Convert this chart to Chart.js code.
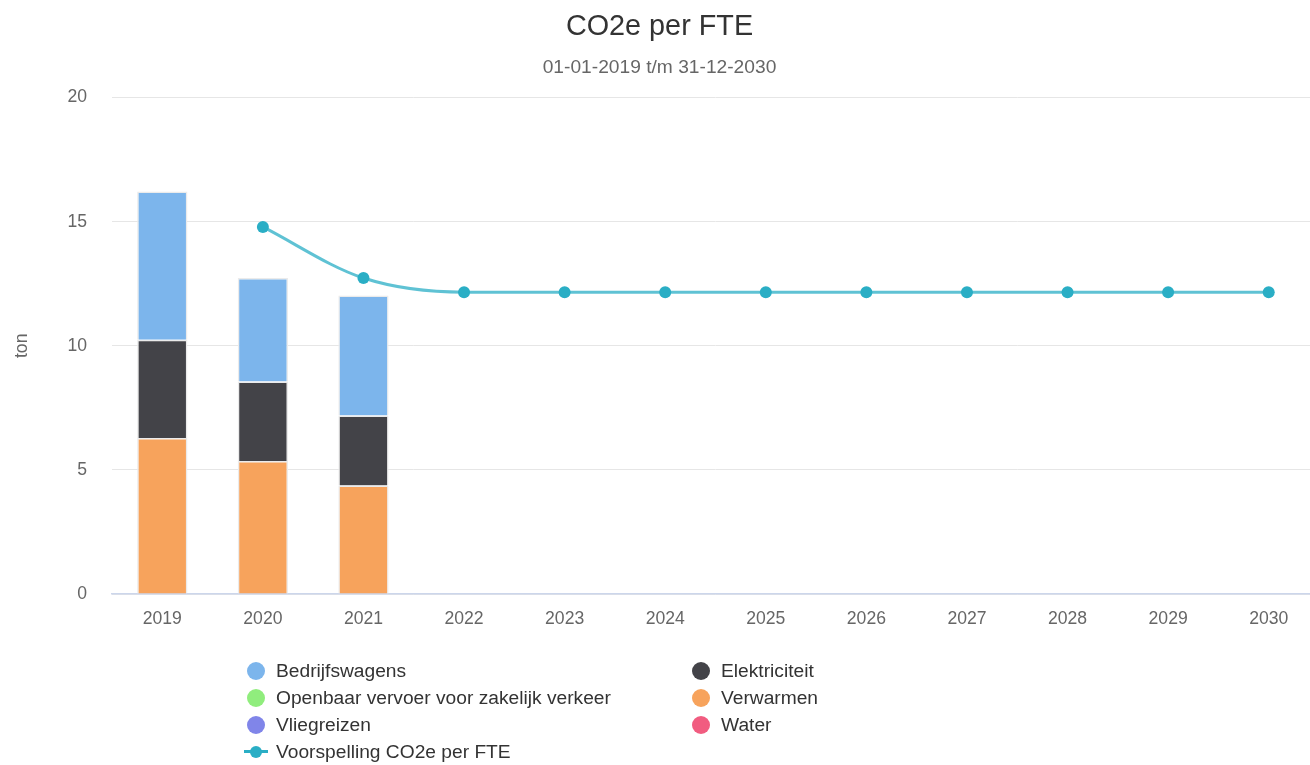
<!DOCTYPE html>
<html lang="nl">
<head>
<meta charset="utf-8">
<title>CO2e per FTE</title>
<script src="https://cdn.jsdelivr.net/npm/chart.js@4.4.1/dist/chart.umd.min.js"></script>
<style>
  html, body { margin: 0; padding: 0; background: #fff; overflow: hidden; }
  #wrap { position: relative; width: 1344px; height: 765px; }
  #legenda {
    position: absolute; left: 244px; top: 657px;
    display: grid; grid-template-columns: 445px 400px; grid-auto-rows: 27px;
    font-family: "Liberation Sans", Arial, sans-serif; font-size: 19.2px; color: #333;
  }
  .item { display: flex; align-items: center; white-space: nowrap; }
  .marker { width: 24px; height: 27px; position: relative; margin-right: 8px; flex: none; }
  .marker .bol { position: absolute; left: 3px; top: 4.5px; width: 18px; height: 18px; border-radius: 50%; }
  .marker .lijn { position: absolute; left: 0; top: 12px; width: 24px; height: 3px; }
  .marker .punt { position: absolute; left: 6px; top: 7.5px; width: 12px; height: 12px; border-radius: 50%; }
</style>
</head>
<body>
<div id="wrap">
  <canvas id="grafiek" width="1344" height="765"></canvas>
  <div id="legenda"></div>
</div>
<script>
// Data
const jaren = ["2019", "2020", "2021", "2022", "2023", "2024", "2025", "2026", "2027", "2028", "2029", "2030"];
const bedrijfswagens = [5.98, 4.17, 4.84];
const elektriciteit = [3.95, 3.2, 2.82];
const openbaarVervoer = [0, 0, 0];
const verwarmen = [6.29, 5.36, 4.37];
const vliegreizen = [0, 0, 0];
const water = [0, 0, 0];
const voorspelling = [null, 14.79, 12.73, 12.16, 12.16, 12.16, 12.16, 12.16, 12.16, 12.16, 12.16, 12.16];
const yTicks = [0, 5, 10, 15, 20];

const lettertype = "'Liberation Sans', Arial, sans-serif";
const lijnKleur = "#2aaec5";

// Volgorde in de legenda
const legendaVolgorde = ["Bedrijfswagens", "Elektriciteit", "Openbaar vervoer voor zakelijk verkeer", "Verwarmen", "Vliegreizen", "Water", "Voorspelling CO2e per FTE"];

function staaf(label, data, kleur) {
  return {
    type: "bar",
    label: label,
    data: data,
    backgroundColor: kleur,
    borderColor: "#ebebeb",
    borderWidth: 1.5,
    stack: "totaal",
    categoryPercentage: 1,
    barPercentage: 0.5,
    order: 2,
  };
}

const ctx = document.getElementById("grafiek").getContext("2d");
const grafiek = new Chart(ctx, {
  data: {
    labels: jaren,
    datasets: [
      {
        type: "line",
        label: "Voorspelling CO2e per FTE",
        data: voorspelling,
        borderColor: "rgba(42,174,197,0.75)",
        backgroundColor: lijnKleur,
        borderWidth: 3,
        pointRadius: 6,
        pointBackgroundColor: lijnKleur,
        pointBorderWidth: 0,
        cubicInterpolationMode: "monotone",
        order: 1,
      },
      // onderste stapel eerst
      staaf("Verwarmen", verwarmen, "#f7a35c"),
      staaf("Elektriciteit", elektriciteit, "#434348"),
      staaf("Bedrijfswagens", bedrijfswagens, "#7cb5ec"),
      staaf("Openbaar vervoer voor zakelijk verkeer", openbaarVervoer, "#90ed7d"),
      staaf("Vliegreizen", vliegreizen, "#8085e9"),
      staaf("Water", water, "#f15c80"),
    ],
  },
  options: {
    responsive: false,
    animation: false,
    layout: { padding: { left: 0, right: 25, top: 0, bottom: 131 } },
    plugins: {
      legend: { display: false },
      tooltip: { enabled: false },
      title: {
        display: true,
        text: "CO2e per FTE",
        color: "#333333",
        font: { family: lettertype, size: 28.8, weight: "normal" },
        padding: { top: 10, bottom: 0 },
      },
      subtitle: {
        display: true,
        text: "01-01-2019 t/m 31-12-2030",
        color: "#666666",
        font: { family: lettertype, size: 19.2, weight: "normal" },
        padding: { top: 12, bottom: 18 },
      },
    },
    scales: {
      x: {
        stacked: true,
        grid: { display: false, drawTicks: false },
        border: { color: "#ccd6eb", width: 1.5 },
        ticks: { color: "#666666", font: { family: lettertype, size: 17.6 }, padding: 15, maxRotation: 0 },
        afterFit: (s) => { s.height = 40; },
      },
      y: {
        stacked: true,
        min: 0,
        max: 20,
        afterBuildTicks: (s) => { s.ticks = yTicks.map((v) => ({ value: v })); },
        grid: { color: "#e6e6e6", drawTicks: false },
        border: { display: false },
        ticks: { color: "#666666", font: { family: lettertype, size: 17.6 }, padding: 25 },
        title: {
          display: true,
          text: "ton",
          color: "#666666",
          font: { family: lettertype, size: 17.6 },
          padding: { top: 12, bottom: 0 },
        },
        afterFit: (s) => { s.width = 112; },
      },
    },
  },
});

// Eigen legenda in twee kolommen, opgebouwd uit de datasets
const legenda = document.getElementById("legenda");
legendaVolgorde.forEach((naam) => {
  const ds = grafiek.data.datasets.find((d) => d.label === naam);
  const item = document.createElement("div");
  item.className = "item";
  const marker = document.createElement("span");
  marker.className = "marker";
  if (ds.type === "line") {
    marker.innerHTML = `<span class="lijn" style="background:${lijnKleur}"></span><span class="punt" style="background:${lijnKleur}"></span>`;
  } else {
    marker.innerHTML = `<span class="bol" style="background:${ds.backgroundColor}"></span>`;
  }
  const tekst = document.createElement("span");
  tekst.textContent = ds.label;
  item.appendChild(marker);
  item.appendChild(tekst);
  legenda.appendChild(item);
});
</script>
</body>
</html>
